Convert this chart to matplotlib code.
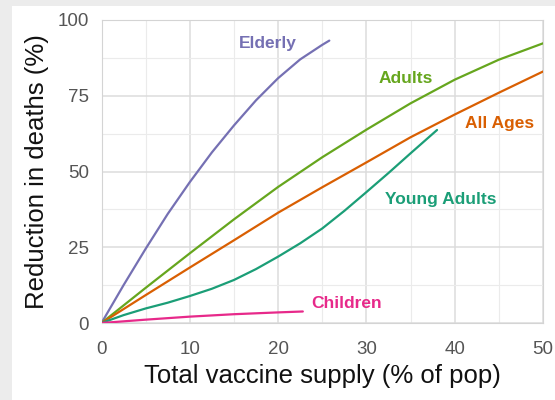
import matplotlib.pyplot as plt
from matplotlib.patches import Rectangle
from matplotlib.ticker import MultipleLocator

plt.rcParams['font.family'] = ['Liberation Sans', 'DejaVu Sans']

# values
elderly_x = [0, 2.5, 5, 7.5, 10, 12.5, 15, 17.5, 20, 22.5, 25, 25.8]
elderly_y = [0, 12.5, 24.5, 36, 46.5, 56.3, 65.2, 73.5, 80.8, 87, 91.8, 93.2]

adults_x = [0, 5, 10, 15, 20, 25, 30, 35, 40, 45, 50]
adults_y = [0, 11.6, 23, 34.2, 44.9, 54.7, 63.8, 72.5, 80.3, 86.9, 92.3]

allages_x = [0, 5, 10, 15, 20, 25, 30, 35, 40, 45, 50]
allages_y = [0, 9.2, 18.3, 27.3, 36.4, 44.8, 53, 61.3, 68.8, 76, 83]

young_x = [0, 2.5, 5, 7.5, 10, 12.5, 15, 17.5, 20, 22.5, 25, 27.5, 30, 32.5, 35, 38]
young_y = [0, 2.6, 4.8, 6.7, 8.9, 11.3, 14.2, 17.8, 21.9, 26.3, 31.2, 37, 43.2, 49.5, 56, 63.7]

children_x = [0, 5, 10, 15, 20, 22.8]
children_y = [0, 1.1, 2.1, 2.9, 3.5, 3.8]

series = [
    ('Elderly', elderly_x, elderly_y, '#7570b3', (18.8, 92.4)),
    ('Adults', adults_x, adults_y, '#66a61e', (34.5, 80.7)),
    ('All Ages', allages_x, allages_y, '#d95f02', (45.1, 65.7)),
    ('Young Adults', young_x, young_y, '#1b9e77', (38.4, 40.9)),
    ('Children', children_x, children_y, '#e7298a', (27.7, 6.3)),
]

fig = plt.figure(figsize=(5.55, 4.0), dpi=100, facecolor='#ececec')
# white card, gray strip left and top
fig.patches.append(Rectangle((12 / 555, 0), 1, 1 - 6 / 400, transform=fig.transFigure,
                             facecolor='white', edgecolor='none', zorder=-5))

ax = fig.add_axes([101.5 / 555, 1 - 323 / 400, (543 - 101.5) / 555, (323 - 20) / 400])
ax.set_zorder(2)
ax.set_facecolor('white')

for name, xs, ys, col, pos in series:
    ax.plot(xs, ys, color=col, lw=1.6, solid_capstyle='round', zorder=3)
    ax.text(pos[0], pos[1], name, color=col, fontsize=12.5, fontweight='bold',
            ha='center', va='center', zorder=4)

ax.set_xlim(0, 50)
ax.set_ylim(0, 100)
ax.xaxis.set_major_locator(MultipleLocator(10))
ax.xaxis.set_minor_locator(MultipleLocator(5))
ax.yaxis.set_major_locator(MultipleLocator(25))
ax.yaxis.set_minor_locator(MultipleLocator(12.5))
ax.grid(which='major', color='#dcdcdc', lw=1.1, zorder=0)
ax.grid(which='minor', color='#ebebeb', lw=0.8, zorder=0)
ax.set_axisbelow(True)

for s in ax.spines.values():
    s.set_color('#d4d4d4')
    s.set_linewidth(0.8)

ax.tick_params(which='both', length=0)
ax.tick_params(axis='x', labelsize=13.5, labelcolor='#555555', pad=13)
ax.tick_params(axis='y', labelsize=13.5, labelcolor='#555555', pad=9)

ax.set_xlabel('Total vaccine supply (% of pop)', fontsize=18.5, color='#111111', labelpad=4)
ax.set_ylabel('Reduction in deaths (%)', fontsize=18.5, color='#111111', labelpad=6)

fig.savefig('out.png', dpi=100, facecolor=fig.get_facecolor())
